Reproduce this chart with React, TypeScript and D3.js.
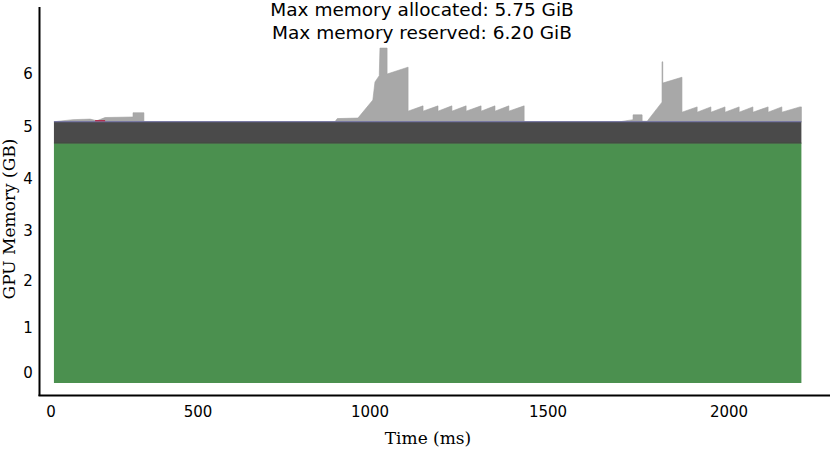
import React from "react";
import * as d3 from "d3";

// ---- data (time in ms, memory in GB) ----
const xTickValues = [0, 500, 1000, 1500, 2000];
const yTickValues = [0, 1, 2, 3, 4, 5, 6];
const titleLines = ["Max memory allocated: 5.75 GiB", "Max memory reserved: 6.20 GiB"];

const baseTimes = [10, 2200];
const baseFloor = [-0.24, -0.24];
const tensorTop = [4.67, 4.67]; // large persistent allocation (green)
const activeTop = [5.08, 5.08]; // other allocations (dark gray)

const redTimes = [150, 184];
const redValues = [5.1, 5.1];

const reservedTimes = [
  10, 75, 133, 156, 184, 279, 279, 316, 316,
  898, 905, 965, 1008, 1014, 1026, 1028, 1048, 1048, 1107, 1107,
  1149, 1149, 1191, 1191, 1230, 1230, 1270, 1270, 1312, 1312, 1351, 1351, 1390, 1390, 1433, 1433,
  1699, 1735, 1735, 1760, 1760, 1774, 1815, 1815, 1817, 1817, 1870, 1870,
  1912, 1912, 1950, 1950, 1989, 1989, 2028, 2028, 2066, 2066, 2108, 2108, 2146, 2146, 2196, 2200,
];
const reservedValues = [
  5.08, 5.12, 5.13, 5.1, 5.16, 5.17, 5.25, 5.25, 5.08,
  5.08, 5.14, 5.15, 5.49, 5.83, 5.95, 6.47, 6.47, 5.98, 6.11, 5.28,
  5.38, 5.28, 5.38, 5.28, 5.38, 5.28, 5.38, 5.28, 5.38, 5.28, 5.38, 5.28, 5.38, 5.28, 5.38, 5.08,
  5.08, 5.12, 5.21, 5.21, 5.09, 5.09, 5.45, 6.21, 6.21, 5.81, 5.92, 5.26,
  5.36, 5.26, 5.36, 5.26, 5.36, 5.26, 5.36, 5.26, 5.36, 5.26, 5.36, 5.26, 5.36, 5.26, 5.36, 5.36,
];

const W = 830;
const H = 449;

export default function App() {
  const x = d3
    .scaleLinear()
    .domain([0, 500, 1000, 1500, 2000, 2500])
    .range([51, 198, 370, 548, 729, 910]);
  const y = d3
    .scaleLinear()
    .domain([-0.5, 0, 1, 2, 3, 4, 5, 6, 7])
    .range([395, 372, 327, 280, 230, 178, 126, 73, 20]);

  const band = (lo: number[], hi: number[]) =>
    d3
      .area<number>()
      .x((_, i) => x(baseTimes[i]))
      .y0((_, i) => y(lo[i]))
      .y1((_, i) => y(hi[i]))(baseTimes) || "";

  const reservedArea =
    d3
      .area<number>()
      .x((t) => x(t))
      .y0(() => y(activeTop[0]))
      .y1((_, i) => y(reservedValues[i]))(reservedTimes) || "";

  const hline = (ts: number[], vs: number[]) =>
    d3
      .line<number>()
      .x((t) => x(t))
      .y((_, i) => y(vs[i]))(ts) || "";

  const sans = "'DejaVu Sans', sans-serif";
  const serif = "'DejaVu Serif', serif";

  return (
    <svg
      width={W}
      height={H}
      style={{ position: "absolute", left: 0, top: 0, background: "#fff" }}
    >
      <path d={reservedArea} fill="#a8a8a8" stroke="#a0a0a0" strokeWidth={0.6} />
      <path d={band(baseFloor, tensorTop)} fill="#4b904f" />
      <path d={band(tensorTop, activeTop)} fill="#4a4a4a" />
      <path d={hline(baseTimes, tensorTop)} stroke="#3b4f3a" strokeWidth={1} fill="none" />
      <path d={hline(baseTimes, activeTop)} stroke="#6e6ea4" strokeWidth={1.2} fill="none" />
      <path d={hline(redTimes, redValues)} stroke="#b0304e" strokeWidth={1.4} fill="none" />

      {/* axes frame */}
      <line x1={39.5} x2={39.5} y1={7} y2={396} stroke="#000" strokeWidth={2} />
      <line x1={38.5} x2={W} y1={395.5} y2={395.5} stroke="#000" strokeWidth={2} />

      {xTickValues.map((t) => (
        <text
          key={"x" + t}
          x={x(t)}
          y={416.5}
          textAnchor="middle"
          fontFamily={sans}
          fontSize={15}
          fill="#000"
        >
          {t}
        </text>
      ))}
      {yTickValues.map((v) => (
        <text
          key={"y" + v}
          x={28}
          y={y(v) + 5.5}
          textAnchor="middle"
          fontFamily={sans}
          fontSize={15}
          fill="#000"
        >
          {v}
        </text>
      ))}

      <text
        x={428}
        y={444}
        textAnchor="middle"
        fontFamily={serif}
        fontSize={17}
        fill="#000"
      >
        Time (ms)
      </text>
      <text
        transform={`translate(15,219) rotate(-90)`}
        textAnchor="middle"
        fontFamily={serif}
        fontSize={17}
        fill="#000"
      >
        GPU Memory (GB)
      </text>

      {titleLines.map((s, i) => (
        <text
          key={s}
          x={422}
          y={16 + i * 23}
          textAnchor="middle"
          fontFamily={sans}
          fontSize={18.5}
          fill="#000"
        >
          {s}
        </text>
      ))}
    </svg>
  );
}
